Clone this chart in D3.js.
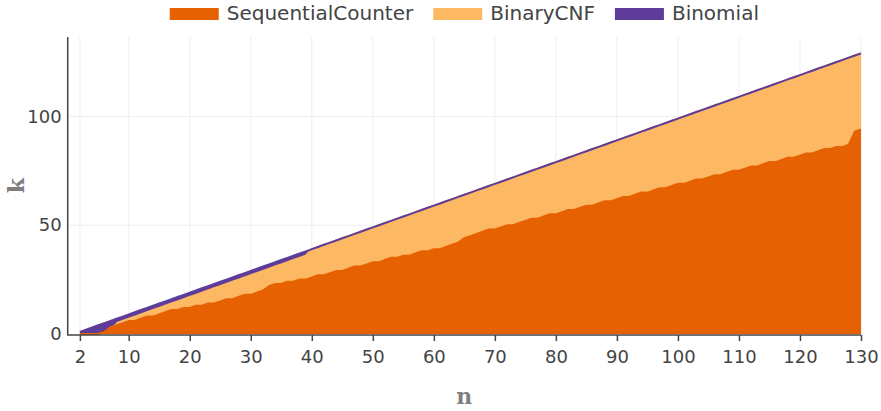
<!DOCTYPE html>
<html>
<head>
<meta charset="utf-8">
<script src="https://cdn.jsdelivr.net/npm/d3@7"></script>
<style>
  html, body { margin: 0; padding: 0; background: #fff; }
  svg { display: block; }
</style>
</head>
<body>
<svg id="chart" width="881" height="411"></svg>
<script>
// Number of variables n, and the tick values shown on the x axis
const nValues = d3.range(2, 131);
const xTicks = [2, 10, 20, 30, 40, 50, 60, 70, 80, 90, 100, 110, 120, 130];
const yTicks = [0, 50, 100];

// Upper k bound of the region where each encoding is best
const sequentialCounter = [
  0, 0, 0, 0, 1, 3, 4, 5, 6, 6,
  7, 8, 8, 9, 10, 11, 11, 12, 12, 13,
  13, 14, 14, 15, 16, 16, 17, 18, 18, 19,
  20, 22, 23, 23, 24, 24, 25, 25, 26, 27,
  27, 28, 29, 29, 30, 31, 31, 32, 33, 33,
  34, 35, 35, 36, 36, 37, 38, 38, 39, 39,
  40, 41, 42, 44, 45, 46, 47, 48, 48, 49,
  50, 50, 51, 52, 53, 53, 54, 55, 55, 56,
  57, 57, 58, 59, 59, 60, 61, 61, 62, 63,
  63, 64, 65, 65, 66, 67, 67, 68, 69, 69,
  70, 71, 71, 72, 73, 73, 74, 75, 75, 76,
  77, 77, 78, 79, 79, 80, 81, 81, 82, 83,
  83, 84, 85, 85, 86, 86, 87, 93, 94
];
const binaryCNF = [
  null, null, null, null, null, null, 5, 6, 7, 8,
  9, 10, 11, 12, 13, 14, 15, 16, 17, 18,
  19, 20, 21, 22, 23, 24, 25, 26, 27, 28,
  29, 30, 31, 32, 33, 34, 35, 36, 39, 40,
  41, 42, 43, 44, 45, 46, 47, 48, 49, 50,
  51, 52, 53, 54, 55, 56, 57, 58, 59, 60,
  61, 62, 63, 64, 65, 66, 67, 68, 69, 70,
  71, 72, 73, 74, 75, 76, 77, 78, 79, 80,
  81, 82, 83, 84, 85, 86, 87, 88, 89, 90,
  91, 92, 93, 94, 95, 96, 97, 98, 99, 100,
  101, 102, 103, 104, 105, 106, 107, 108, 109, 110,
  111, 112, 113, 114, 115, 116, 117, 118, 119, 120,
  121, 122, 123, 124, 125, 126, 127, 128, 129
];
const binomial = [
  1, 2, 3, 4, 5, 6, 7, 8, 9, 10,
  11, 12, 13, 14, 15, 16, 17, 18, 19, 20,
  21, 22, 23, 24, 25, 26, 27, 28, 29, 30,
  31, 32, 33, 34, 35, 36, 37, 38, 39, 40,
  41, 42, 43, 44, 45, 46, 47, 48, 49, 50,
  51, 52, 53, 54, 55, 56, 57, 58, 59, 60,
  61, 62, 63, 64, 65, 66, 67, 68, 69, 70,
  71, 72, 73, 74, 75, 76, 77, 78, 79, 80,
  81, 82, 83, 84, 85, 86, 87, 88, 89, 90,
  91, 92, 93, 94, 95, 96, 97, 98, 99, 100,
  101, 102, 103, 104, 105, 106, 107, 108, 109, 110,
  111, 112, 113, 114, 115, 116, 117, 118, 119, 120,
  121, 122, 123, 124, 125, 126, 127, 128, 129
];

const seriesNames = ["SequentialCounter", "BinaryCNF", "Binomial"];
const seriesColors = ["#e66101", "#fdb863", "#5e3c99"];

const svg = d3.select("#chart");
const plot = { left: 67.7, right: 861, top: 37, bottom: 334 };

const x = d3.scaleLinear().domain([0, 130]).range([plot.left, plot.right]);
const y = d3.scaleLinear().domain([0, 136.5]).range([plot.bottom, plot.top]);

const rows = nValues.map((n, i) => ({
  n,
  seq: sequentialCounter[i],
  bin: binaryCNF[i],
  binLow: binaryCNF[i] == null ? sequentialCounter[i] : binaryCNF[i],
  nom: binomial[i]
}));

// Grid
const grid = svg.append("g");
grid.selectAll("line.vx").data(xTicks).join("line")
  .attr("x1", d => x(d)).attr("x2", d => x(d))
  .attr("y1", plot.top).attr("y2", plot.bottom)
  .attr("stroke", "#eeeeee").attr("stroke-width", 1);
grid.selectAll("line.hy").data(yTicks.filter(d => d > 0)).join("line")
  .attr("x1", plot.left).attr("x2", plot.right)
  .attr("y1", d => y(d)).attr("y2", d => y(d))
  .attr("stroke", "#eeeeee").attr("stroke-width", 1);

// Filled bands: each one runs from the previous series up to its own
const areaSeq = d3.area().x(d => x(d.n)).y0(y(0)).y1(d => y(d.seq));
const areaBin = d3.area().x(d => x(d.n)).y0(d => y(d.seq)).y1(d => y(d.binLow));
const areaNom = d3.area().x(d => x(d.n)).y0(d => y(d.binLow)).y1(d => y(d.nom));

const marks = svg.append("g");
marks.append("path").datum(rows).attr("d", areaSeq).attr("fill", seriesColors[0]);
marks.append("path").datum(rows).attr("d", areaBin).attr("fill", seriesColors[1]);
marks.append("path").datum(rows).attr("d", areaNom).attr("fill", seriesColors[2]);

// Edge lines on top of the fills
const lineSeq = d3.line().x(d => x(d.n)).y(d => y(d.seq));
const lineBin = d3.line().defined(d => d.bin != null).x(d => x(d.n)).y(d => y(d.bin));
const lineNom = d3.line().x(d => x(d.n)).y(d => y(d.nom));
marks.append("path").datum(rows).attr("d", lineSeq)
  .attr("fill", "none").attr("stroke", seriesColors[0]).attr("stroke-width", 2);
marks.append("path").datum(rows).attr("d", lineBin)
  .attr("fill", "none").attr("stroke", seriesColors[1]).attr("stroke-width", 2);
marks.append("path").datum(rows).attr("d", lineNom)
  .attr("fill", "none").attr("stroke", seriesColors[2]).attr("stroke-width", 2);

// Axes
const tickFont = "DejaVu Sans, Verdana, sans-serif";
const xAxis = svg.append("g")
  .attr("transform", `translate(0,${plot.bottom + 1})`)
  .call(d3.axisBottom(x).tickValues(xTicks).tickSize(6).tickPadding(9).tickSizeOuter(0));
xAxis.select(".domain").attr("stroke", "#444").attr("stroke-width", 1.5)
  .attr("d", `M${plot.left},0H${plot.right}`);
xAxis.selectAll(".tick line").attr("stroke", "#444").attr("stroke-width", 1.5);
xAxis.selectAll(".tick text")
  .attr("fill", "#444").style("font-family", tickFont).style("font-size", "18px");

const yAxis = svg.append("g")
  .attr("transform", `translate(${plot.left},0)`)
  .call(d3.axisLeft(y).tickValues(yTicks).tickSize(0).tickPadding(6).tickSizeOuter(0));
yAxis.select(".domain").attr("stroke", "#444").attr("stroke-width", 1.5)
  .attr("d", `M0,${plot.top}V${plot.bottom + 1.5}`);
yAxis.selectAll(".tick text")
  .attr("fill", "#444").style("font-family", tickFont).style("font-size", "18px");

// Axis titles in a slab-serif face
const titleFont = "'DejaVu Serif', serif";
svg.append("text")
  .attr("x", (plot.left + plot.right) / 2).attr("y", 398)
  .attr("text-anchor", "middle").attr("dominant-baseline", "middle")
  .attr("fill", "#7f7f7f").style("font-family", titleFont)
  .style("font-size", "22px").style("font-weight", "bold")
  .text("n");
svg.append("text")
  .attr("transform", `translate(18,${(plot.top + plot.bottom) / 2}) rotate(-90)`)
  .attr("text-anchor", "middle").attr("dominant-baseline", "middle")
  .attr("fill", "#7f7f7f").style("font-family", titleFont)
  .style("font-size", "22px").style("font-weight", "bold")
  .text("k");

// Legend, centred over the plot
const legend = svg.append("g");
const swatchW = 49, swatchH = 12, textGap = 8, itemGap = 20, legendY = 14;
const items = legend.selectAll("g").data(seriesNames).join("g");
items.append("rect")
  .attr("width", swatchW).attr("height", swatchH)
  .attr("y", legendY - swatchH / 2)
  .attr("fill", (d, i) => seriesColors[i]);
items.append("text")
  .attr("x", swatchW + textGap).attr("y", legendY)
  .attr("dominant-baseline", "middle")
  .attr("fill", "#444").style("font-family", tickFont).style("font-size", "20px")
  .text(d => d);
let offsets = [], cursor = 0;
items.each(function () {
  const w = swatchW + textGap + d3.select(this).select("text").node().getComputedTextLength();
  offsets.push(cursor);
  cursor += w + itemGap;
});
const totalW = cursor - itemGap;
const startX = (plot.left + plot.right) / 2 - totalW / 2;
items.attr("transform", (d, i) => `translate(${startX + offsets[i]},0)`);
</script>
</body>
</html>
